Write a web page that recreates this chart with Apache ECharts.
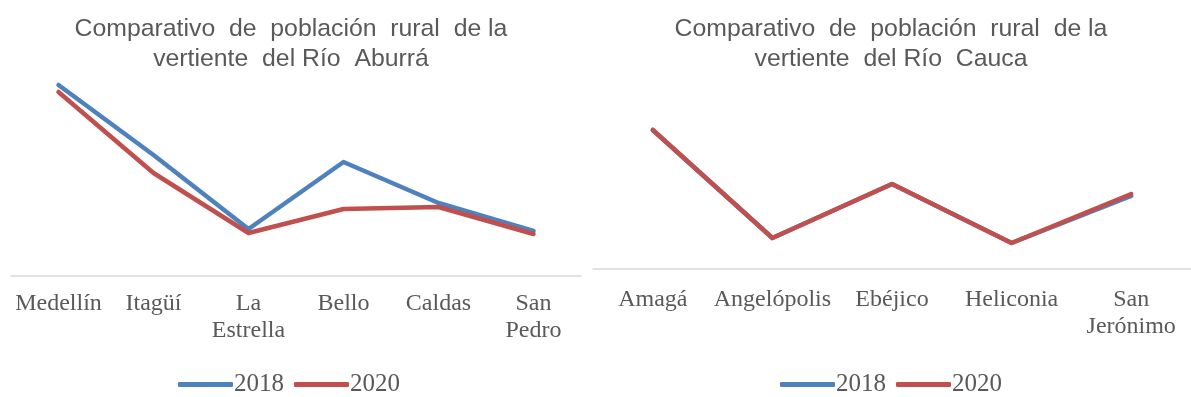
<!DOCTYPE html>
<html>
<head>
<meta charset="utf-8">
<script src="https://cdn.jsdelivr.net/npm/echarts@6/dist/echarts.min.js"></script>
<style>
html,body{margin:0;padding:0;background:#fff;}
#chart{width:1191px;height:397px;}
</style>
</head>
<body>
<div id="chart"></div>
<script>
const catsAburra = ['Medellín', 'Itagüí', 'La\nEstrella', 'Bello', 'Caldas', 'San\nPedro'];
const aburra2018 = [191, 121, 47, 114, 73, 45];
const aburra2020 = [184, 103, 43, 67, 69, 42];

const catsCauca = ['Amagá', 'Angelópolis', 'Ebéjico', 'Heliconia', 'San\nJerónimo'];
const cauca2018 = [139, 31, 85, 26, 73];
const cauca2020 = [139, 31, 85, 26, 75];

const seriesNames = ['2018', '2020'];
const titleAburra = 'Comparativo  de  población  rural  de la\nvertiente  del Río  Aburrá';
const titleCauca = 'Comparativo  de  población  rural  de la\nvertiente  del Río  Cauca';

const BLUE = '#4F81BD', RED = '#C0504D', GREY = '#595959';
const serif = '"Liberation Serif", "Times New Roman", serif';
const sans = '"Liberation Sans", Arial, sans-serif';

const chart = echarts.init(document.getElementById('chart'), null, {renderer: 'canvas'});

function xAxisFor(gridIndex, data, margin) {
  return {
    type: 'category', gridIndex: gridIndex, data: data, boundaryGap: true,
    axisLine: {show: true, lineStyle: {color: '#D9D9D9', width: 1.5}},
    axisTick: {show: false},
    axisLabel: {color: GREY, fontFamily: serif, fontSize: 24, lineHeight: 27, margin: margin, interval: 0}
  };
}
function yAxisFor(gridIndex) {
  return {
    type: 'value', gridIndex: gridIndex, min: 0, max: 200, interval: 50,
    show: false, splitLine: {show: false}
  };
}
function lineSeries(name, data, color, idx) {
  return {
    name: name, type: 'line', xAxisIndex: idx, yAxisIndex: idx, data: data,
    symbol: 'none', smooth: false,
    lineStyle: {color: color, width: 4.5, cap: 'round', join: 'round'},
    itemStyle: {color: color},
    emphasis: {disabled: true}
  };
}
function legendFor(left) {
  return {
    data: seriesNames, left: left, top: 372, icon: 'roundRect',
    itemWidth: 55, itemHeight: 5, itemGap: 10, padding: 0,
    textStyle: {color: GREY, fontFamily: serif, fontSize: 25, padding: [0, 0, 0, -4]}
  };
}

chart.setOption({
  animation: false,
  backgroundColor: '#ffffff',
  title: [
    {text: titleAburra, left: 291, top: 14, textAlign: 'center', padding: 0,
     textStyle: {color: GREY, fontFamily: sans, fontSize: 24.8, fontWeight: 'normal', lineHeight: 30}},
    {text: titleCauca, left: 891, top: 14, textAlign: 'center', padding: 0,
     textStyle: {color: GREY, fontFamily: sans, fontSize: 24.8, fontWeight: 'normal', lineHeight: 30}}
  ],
  legend: [legendFor(178), legendFor(780)],
  grid: [
    {left: 11, top: 76, width: 570, height: 200, containLabel: false},
    {left: 593, top: 69, width: 600, height: 200, containLabel: false}
  ],
  xAxis: [xAxisFor(0, catsAburra, 14), xAxisFor(1, catsCauca, 17)],
  yAxis: [yAxisFor(0), yAxisFor(1)],
  series: [
    lineSeries('2018', aburra2018, BLUE, 0),
    lineSeries('2020', aburra2020, RED, 0),
    lineSeries('2018', cauca2018, BLUE, 1),
    lineSeries('2020', cauca2020, RED, 1)
  ]
});
</script>
</body>
</html>
